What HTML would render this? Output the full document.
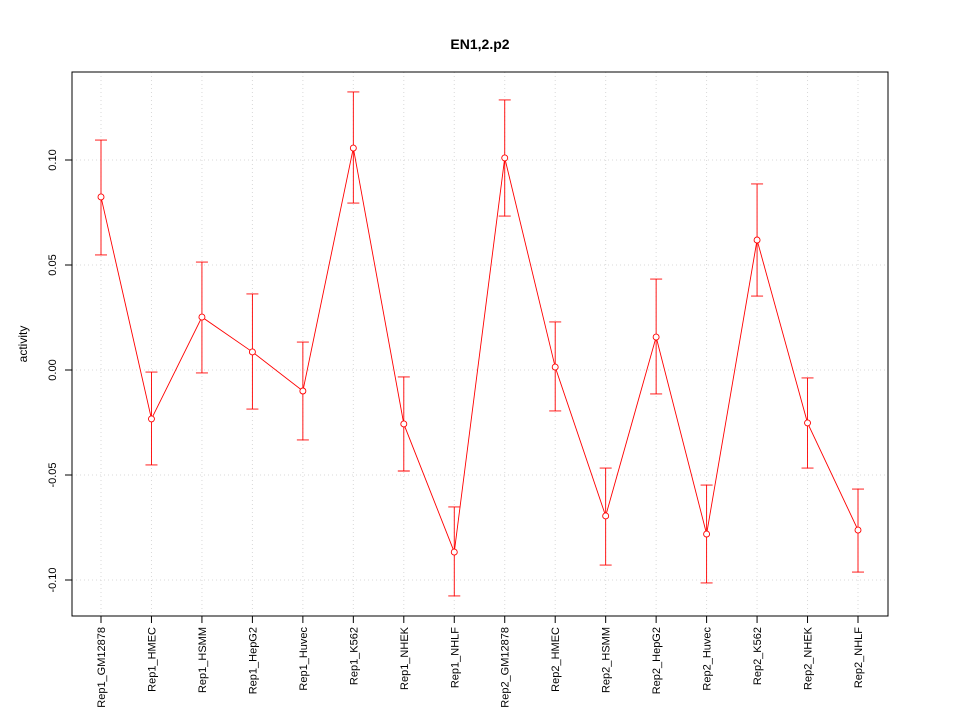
<!DOCTYPE html>
<html><head><meta charset="utf-8"><style>
body{margin:0;background:#fff}
svg text{font-family:"Liberation Sans",sans-serif}
</style></head><body>
<svg id="chart" width="960" height="720" xmlns="http://www.w3.org/2000/svg">
<rect width="960" height="720" fill="#fff"/>
<text x="480" y="49" text-anchor="middle" font-size="14" font-weight="bold">EN1,2.p2</text>
<text transform="translate(27,344) rotate(-90)" text-anchor="middle" font-size="12">activity</text>
<g id="grid"></g><g id="axes"></g><g id="marks"></g>
<rect x="72" y="72" width="816" height="544" fill="none" stroke="#000"/>
</svg>
<script>
const categories=["Rep1_GM12878","Rep1_HMEC","Rep1_HSMM","Rep1_HepG2","Rep1_Huvec","Rep1_K562","Rep1_NHEK","Rep1_NHLF","Rep2_GM12878","Rep2_HMEC","Rep2_HSMM","Rep2_HepG2","Rep2_Huvec","Rep2_K562","Rep2_NHEK","Rep2_NHLF"];
const values=[0.0824,-0.0233,0.0252,0.0086,-0.0100,0.1057,-0.0257,-0.0867,0.1010,0.0014,-0.0695,0.0157,-0.0781,0.0619,-0.0252,-0.0762];
const upper=[0.1095,-0.0010,0.0514,0.0362,0.0133,0.1324,-0.0033,-0.0652,0.1286,0.0229,-0.0467,0.0433,-0.0548,0.0886,-0.0038,-0.0567];
const lower=[0.0548,-0.0452,-0.0014,-0.0186,-0.0333,0.0795,-0.0481,-0.1076,0.0733,-0.0195,-0.0929,-0.0114,-0.1014,0.0352,-0.0467,-0.0962];
const yTicks=[-0.10,-0.05,0.00,0.05,0.10];
const yTickLabels=["-0.10","-0.05","0.00","0.05","0.10"];
const NS="http://www.w3.org/2000/svg";
const yScale=v=>370-v*2100;
const xScale=i=>101+i*(858-101)/(categories.length-1);
function mk(tag,attrs,parent){const e=document.createElementNS(NS,tag);for(const k in attrs)e.setAttribute(k,attrs[k]);parent.appendChild(e);return e;}
const grid=document.getElementById('grid'),axes=document.getElementById('axes'),marks=document.getElementById('marks');
categories.forEach((c,i)=>{
  const x=xScale(i);
  let g=mk('line',{x1:x,x2:x,y1:72,y2:616,stroke:'#d9d9d9','stroke-dasharray':'1,3'},grid);
  
  
  let t=mk('line',{x1:x,x2:x,y1:616,y2:623,stroke:'#000'},axes);
  
  
  let l=mk('text',{transform:`translate(${x+4},627) rotate(-90)`,'text-anchor':'end','font-size':'11'},axes);
  l.textContent=c;
  
  
});
yTicks.forEach((v,i)=>{
  const y=yScale(v);
  let g=mk('line',{x1:72,x2:888,y1:y,y2:y,stroke:'#d9d9d9','stroke-dasharray':'1,3'},grid);
  
  
  let t=mk('line',{x1:65,x2:72,y1:y,y2:y,stroke:'#000'},axes);
  
  
  let l=mk('text',{transform:`translate(56,${y}) rotate(-90)`,'text-anchor':'middle','font-size':'11'},axes);
  l.textContent=yTickLabels[i];
  
  
});
let pl=mk('polyline',{points:values.map((v,i)=>xScale(i)+','+yScale(v)).join(' '),fill:'none',stroke:'#f00','stroke-width':'0.9'},marks);


values.forEach((v,i)=>{
  const x=xScale(i),yu=yScale(upper[i]),yl=yScale(lower[i]);
  let e=mk('path',{d:`M${x},${yu}V${yl}M${x-6},${yu}H${x+6}M${x-6},${yl}H${x+6}`,stroke:'#f00','stroke-width':'0.9',fill:'none'},marks);
  
  
  let p=mk('circle',{cx:x,cy:yScale(v),r:3,fill:'#fff',stroke:'#f00','stroke-width':'0.9'},marks);
  
  
});
</script>
</body></html>
